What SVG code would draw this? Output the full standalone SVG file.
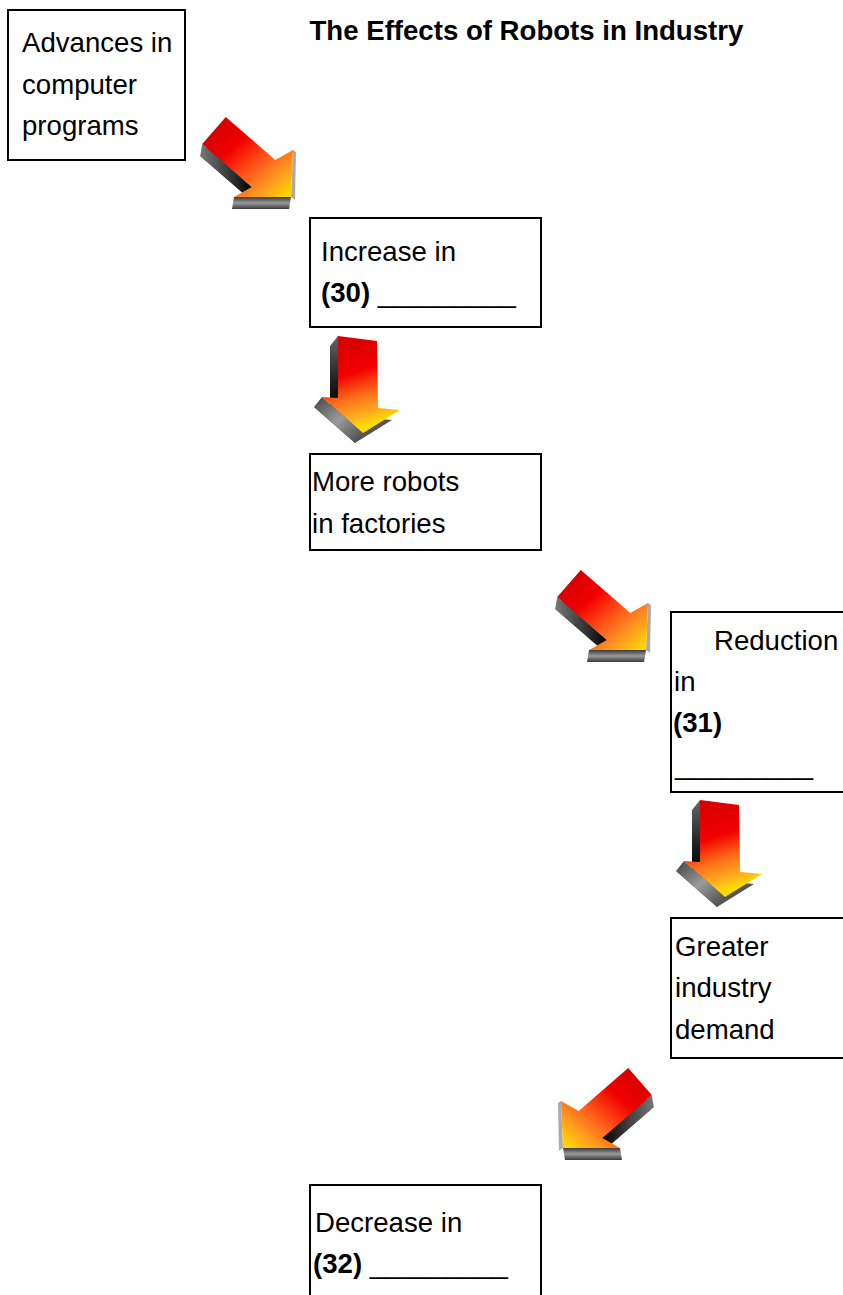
<svg xmlns="http://www.w3.org/2000/svg" xmlns:xlink="http://www.w3.org/1999/xlink" width="843" height="1295" viewBox="0 0 843 1295">
<style>
.box{fill:#fff;stroke:#000;stroke-width:2}
.t{font-family:"Liberation Sans",Arial,sans-serif;font-size:27.6px;fill:#000}
.b{font-weight:bold}
</style>
<defs>
<linearGradient id="frDR" x1="0.05" y1="0.05" x2="0.95" y2="0.95">
<stop offset="0" stop-color="#cc0000"/>
<stop offset="0.35" stop-color="#f20000"/>
<stop offset="0.62" stop-color="#ff5a1a"/>
<stop offset="0.82" stop-color="#ff9a20"/>
<stop offset="1" stop-color="#ffd400"/>
</linearGradient>
<linearGradient id="frD" x1="0" y1="0" x2="0.25" y2="1">
<stop offset="0" stop-color="#d00000"/>
<stop offset="0.45" stop-color="#f20000"/>
<stop offset="0.7" stop-color="#ff701a"/>
<stop offset="0.88" stop-color="#ffaa20"/>
<stop offset="1" stop-color="#ffdc00"/>
</linearGradient>
<linearGradient id="band" x1="0" y1="0" x2="0" y2="1">
<stop offset="0" stop-color="#3a3a3a"/>
<stop offset="0.5" stop-color="#9a9a9a"/>
<stop offset="1" stop-color="#3a3a3a"/>
</linearGradient>
<linearGradient id="sideDR" x1="0" y1="0" x2="1" y2="0">
<stop offset="0" stop-color="#777"/>
<stop offset="0.6" stop-color="#333"/>
<stop offset="1" stop-color="#000"/>
</linearGradient>
<linearGradient id="sideD" x1="0" y1="0" x2="0" y2="1">
<stop offset="0" stop-color="#666"/>
<stop offset="0.6" stop-color="#222"/>
<stop offset="1" stop-color="#000"/>
</linearGradient>
<linearGradient id="bandD" x1="0" y1="0" x2="1" y2="1">
<stop offset="0" stop-color="#444"/>
<stop offset="0.5" stop-color="#9a9a9a"/>
<stop offset="1" stop-color="#444"/>
</linearGradient>
<g id="arrowDR">
<polygon fill="#444" points="223.8,128.9 273.3,171.9 291,162 289,209 232,209 249.7,199.1 200.2,156.1"/>
<polygon fill="url(#sideDR)" points="202.2,144.1 251.7,187.1 249.7,199.1 200.2,156.1"/>
<polygon fill="url(#band)" points="234,197 291,197 289,209 232,209"/>
<polygon fill="#aaa" points="293,150 291,197 295,200 296,152"/>
<polygon fill="url(#frDR)" points="225.8,116.9 275.3,159.9 293,150 291,197 234,197 251.7,187.1 202.2,144.1"/>
</g>
<g id="arrowD">
<polygon fill="#555" points="330,346 369,351 370,418 392,420 355,443 314,407 330,408"/>
<polygon fill="url(#sideD)" points="338,336 338,398 330,408 330,346"/>
<polygon fill="url(#bandD)" points="322,397 363,433 355,443 314,407"/>
<polygon fill="url(#frD)" points="338,336 377,341 378,408 400,410 363,433 322,397 338,398"/>
</g>
</defs>
<g id="title"><text class="t b" x="309.5" y="40">The Effects of Robots in Industry</text></g>
<g id="connectors">
<use xlink:href="#arrowDR"/>
<use xlink:href="#arrowD"/>
<use xlink:href="#arrowDR" transform="translate(355,453)"/>
<use xlink:href="#arrowD" transform="translate(362,464)"/>
<use xlink:href="#arrowDR" transform="translate(854,951) scale(-1,1)"/>
</g>
<g id="node1">
<rect class="box" x="8" y="10" width="177" height="150"/>
<text class="t" x="22" y="52">Advances in</text>
<text class="t" x="22" y="93.5">computer</text>
<text class="t" x="22" y="135">programs</text>
</g>
<g id="node2">
<rect class="box" x="310" y="218" width="231" height="109"/>
<text class="t" x="321" y="261">Increase in</text>
<text class="t" x="321" y="302"><tspan class="b">(30)</tspan> _________</text>
</g>
<g id="node3">
<rect class="box" x="310" y="454" width="231" height="96"/>
<text class="t" x="312" y="491">More robots</text>
<text class="t" x="312" y="533">in factories</text>
</g>
<g id="node4">
<rect class="box" x="671" y="612" width="190" height="180"/>
<text class="t" x="714" y="650">Reduction</text>
<text class="t" x="674" y="691">in</text>
<text class="t b" x="673" y="732">(31)</text>
<text class="t" x="675" y="774">_________</text>
</g>
<g id="node5">
<rect class="box" x="671" y="918" width="190" height="140"/>
<text class="t" x="675" y="956">Greater</text>
<text class="t" x="675" y="997">industry</text>
<text class="t" x="675" y="1039">demand</text>
</g>
<g id="node6">
<rect class="box" x="310" y="1185" width="231" height="130"/>
<text class="t" x="315" y="1232">Decrease in</text>
<text class="t" x="313" y="1273"><tspan class="b">(32)</tspan> _________</text>
</g>
</svg>
